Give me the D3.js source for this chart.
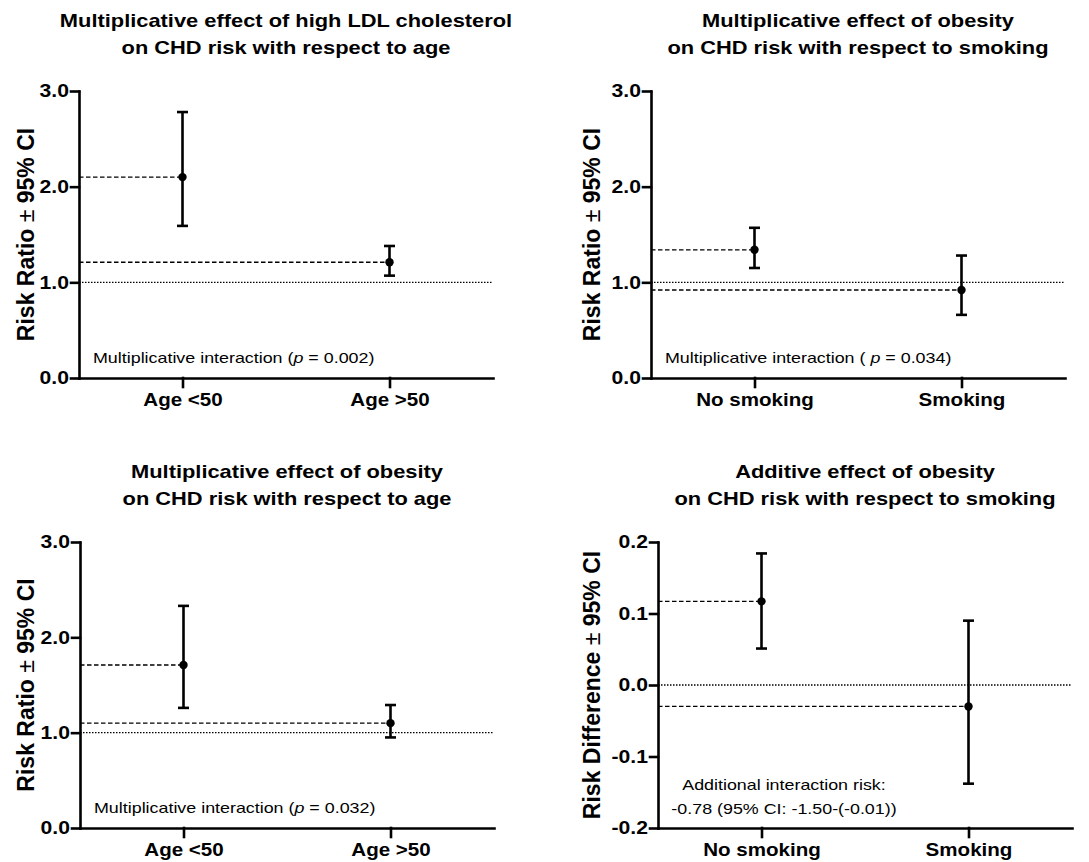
<!DOCTYPE html>
<html>
<head>
<meta charset="utf-8">
<title>CHD risk interaction plots</title>
<script src="https://d3js.org/d3.v7.min.js"></script>
<style>
    body { margin: 0; background: #fff; }
    svg text { font-family: Arial, "Liberation Sans", sans-serif; fill: #000; }
</style>
</head>
<body>
<div id="chart"></div>
<script>
    // categories
    var ageGroups = ["Age <50", "Age >50"];
    var smokingGroups = ["No smoking", "Smoking"];

    // high LDL, by age (risk ratio)
    var ldlAgeRR = [2.10, 1.21];
    var ldlAgeLow = [1.59, 1.07];
    var ldlAgeHigh = [2.78, 1.38];

    // obesity, by smoking (risk ratio)
    var obSmokeRR = [1.34, 0.92];
    var obSmokeLow = [1.15, 0.66];
    var obSmokeHigh = [1.57, 1.28];

    // obesity, by age (risk ratio)
    var obAgeRR = [1.71, 1.10];
    var obAgeLow = [1.26, 0.95];
    var obAgeHigh = [2.33, 1.29];

    // obesity, by smoking (risk difference)
    var obSmokeRD = [0.117, -0.030];
    var obSmokeRDLow = [0.051, -0.138];
    var obSmokeRDHigh = [0.184, 0.090];

    // tick labels
    var ratioTicks = [0, 1, 2, 3];
    var diffTicks = [-0.2, -0.1, 0, 0.1, 0.2];

    // text in the source is a bit wider than Arial
    var SX = 1.175;

    function doD3() {
        var canvas = createCanvas();

        var panels = [
            {
                titles: ["Multiplicative effect of high LDL cholesterol", "on CHD risk with respect to age"],
                yLabel: "Risk Ratio", categories: ageGroups,
                est: ldlAgeRR, low: ldlAgeLow, high: ldlAgeHigh,
                domain: [0, 3], ticks: ratioTicks, ref: 1,
                p: "0.002", pOpen: "(",
                frame: {x0: 79, x1: 493, y0: 91, y1: 378, labelX: 34}
            },
            {
                titles: ["Multiplicative effect of obesity", "on CHD risk with respect to smoking"],
                yLabel: "Risk Ratio", categories: smokingGroups,
                est: obSmokeRR, low: obSmokeLow, high: obSmokeHigh,
                domain: [0, 3], ticks: ratioTicks, ref: 1,
                p: "0.034", pOpen: "( ",
                frame: {x0: 651, x1: 1065, y0: 91, y1: 378, labelX: 600}
            },
            {
                titles: ["Multiplicative effect of obesity", "on CHD risk with respect to age"],
                yLabel: "Risk Ratio", categories: ageGroups,
                est: obAgeRR, low: obAgeLow, high: obAgeHigh,
                domain: [0, 3], ticks: ratioTicks, ref: 1,
                p: "0.032", pOpen: "(",
                frame: {x0: 80, x1: 494, y0: 542, y1: 828, labelX: 34}
            },
            {
                titles: ["Additive effect of obesity", "on CHD risk with respect to smoking"],
                yLabel: "Risk Difference", categories: smokingGroups,
                est: obSmokeRD, low: obSmokeRDLow, high: obSmokeRDHigh,
                domain: [-0.2, 0.2], ticks: diffTicks, ref: 0,
                notes: ["Additional interaction risk:", "-0.78 (95% CI: -1.50-(-0.01))"],
                frame: {x0: 658, x1: 1072, y0: 542, y1: 828, labelX: 600}
            }
        ];

        panels.forEach(function(p) { drawPanel(canvas, p); });
    }

    function stretch(sel) {
        sel.each(function() {
            var t = d3.select(this);
            var x = +t.attr("x") || 0, y = +t.attr("y") || 0;
            t.attr("x", 0).attr("y", 0)
             .attr("transform", "translate(" + x + "," + y + ") scale(" + SX + ",1)");
        });
    }

    function drawPanel(canvas, p) {
        var f = p.frame;
        var g = canvas.append("g");

        var x = d3.scalePoint().domain(p.categories).range([f.x0, f.x1]).padding(0.5);
        var y = d3.scaleLinear().domain(p.domain).range([f.y1, f.y0]);

        var rows = p.categories.map(function(c, i) {
            return {cat: c, est: p.est[i], low: p.low[i], high: p.high[i]};
        });

        // reference line (no effect)
        g.append("line")
            .attr("x1", f.x0).attr("x2", f.x1)
            .attr("y1", y(p.ref)).attr("y2", y(p.ref))
            .attr("stroke", "#000").attr("stroke-width", 1.3)
            .attr("stroke-dasharray", "1.5,1.5");

        // dashed guides from axis to each estimate
        g.selectAll(".guide").data(rows)
          .enter().append("line")
            .attr("class", "guide")
            .attr("x1", f.x0).attr("x2", function(d) { return x(d.cat); })
            .attr("y1", function(d) { return y(d.est); })
            .attr("y2", function(d) { return y(d.est); })
            .attr("stroke", "#000").attr("stroke-width", 1.3)
            .attr("stroke-dasharray", "4.5,2.5");

        // error bars
        var bars = g.selectAll(".bar").data(rows)
          .enter().append("g").attr("class", "bar")
            .attr("stroke", "#000").attr("stroke-width", 2.6);
        bars.append("line")
            .attr("x1", function(d) { return x(d.cat); })
            .attr("x2", function(d) { return x(d.cat); })
            .attr("y1", function(d) { return y(d.low); })
            .attr("y2", function(d) { return y(d.high); });
        ["low", "high"].forEach(function(k) {
            bars.append("line")
                .attr("x1", function(d) { return x(d.cat) - 5.5; })
                .attr("x2", function(d) { return x(d.cat) + 5.5; })
                .attr("y1", function(d) { return y(d[k]); })
                .attr("y2", function(d) { return y(d[k]); });
        });
        g.selectAll(".dot").data(rows)
          .enter().append("circle")
            .attr("class", "dot")
            .attr("cx", function(d) { return x(d.cat); })
            .attr("cy", function(d) { return y(d.est); })
            .attr("r", 4.2)
            .attr("fill", "#000");

        // axes
        var yAxis = g.append("g")
            .attr("transform", "translate(" + f.x0 + ",0)")
            .call(d3.axisLeft(y).tickValues(p.ticks)
                .tickFormat(function(d) { return d.toFixed(1); })
                .tickSize(8).tickPadding(2).tickSizeOuter(0));
        var xAxis = g.append("g")
            .attr("transform", "translate(0," + f.y1 + ")")
            .call(d3.axisBottom(x).tickSize(9).tickPadding(7).tickSizeOuter(0));

        [yAxis, xAxis].forEach(function(a) {
            a.selectAll("path, line")
                .attr("stroke", "#000").attr("stroke-width", 2.6)
                .attr("stroke-linecap", "square");
            a.selectAll("text")
                .attr("font-weight", "bold").attr("fill", "#000")
                .call(stretch);
        });
        yAxis.selectAll("text").attr("font-size", 18);
        xAxis.selectAll("text").attr("font-size", 17.5);

        // title
        g.selectAll(".title").data(p.titles)
          .enter().append("text")
            .attr("class", "title")
            .attr("x", (f.x0 + f.x1) / 2)
            .attr("y", function(d, i) { return f.y0 - 64 + i * 27; })
            .attr("text-anchor", "middle")
            .attr("font-size", 18.6).attr("font-weight", "bold")
            .text(function(d) { return d; })
            .call(stretch);

        // y label
        var yl = g.append("text")
            .attr("transform", "translate(" + f.labelX + "," + (f.y0 + f.y1) / 2 + ") rotate(-90)")
            .attr("text-anchor", "middle")
            .attr("font-size", 23).attr("font-weight", "bold");
        yl.append("tspan").text(p.yLabel + " ");
        yl.append("tspan").attr("font-weight", "normal").text("\u00b1");
        yl.append("tspan").text(" 95% CI");

        // interaction note
        if (p.p) {
            var note = g.append("text")
                .attr("x", f.x0 + 14).attr("y", f.y1 - 15)
                .attr("font-size", 15.2);
            note.append("tspan").text("Multiplicative interaction " + p.pOpen);
            note.append("tspan").attr("font-style", "italic").text("p");
            note.append("tspan").text(" = " + p.p + ")");
            note.call(stretch);
        } else {
            g.selectAll(".note").data(p.notes)
              .enter().append("text")
                .attr("class", "note")
                .attr("x", f.x0 + 126)
                .attr("y", function(d, i) { return f.y1 - 38 + i * 24; })
                .attr("text-anchor", "middle")
                .attr("font-size", 15.2)
                .text(function(d) { return d; })
                .call(stretch);
        }
    }

    function createCanvas() {
        return d3.select("#chart").append("svg")
            .attr("width", 1089)
            .attr("height", 862)
            .style("display", "block")
            .style("background", "#fff");
    }

    doD3();
</script>
</body>
</html>
